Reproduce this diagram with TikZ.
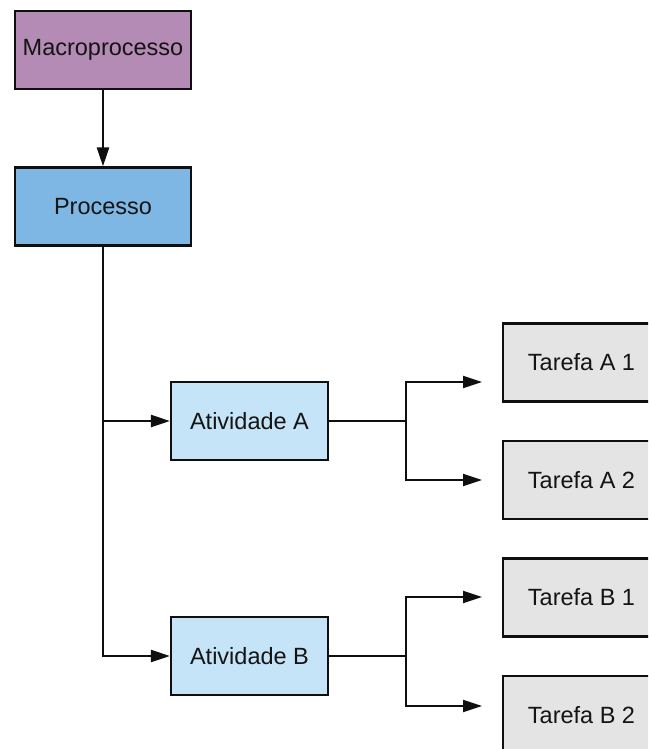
\documentclass[tikz,border=0pt]{standalone}
\usepackage{fontspec}
\setmainfont{Liberation Sans}
\usetikzlibrary{arrows.meta}
\definecolor{macrofill}{RGB}{180,139,180}
\definecolor{procfill}{RGB}{127,183,228}
\definecolor{ativfill}{RGB}{198,228,247}
\definecolor{tarefill}{RGB}{228,228,228}
\definecolor{inkline}{RGB}{15,15,15}
\begin{document}
\begin{tikzpicture}[x=1pt,y=-1pt,
  box/.style={draw=inkline, line width=2.2pt, rectangle, inner sep=0pt,
    font=\fontsize{23.5}{28}\selectfont, text=black!92},
  bigbox/.style={box, minimum width=176pt, minimum height=78pt},
  ativbox/.style={box, fill=ativfill, minimum width=157pt, minimum height=78pt},
  tarebox/.style={box, fill=tarefill, minimum width=157pt, minimum height=78pt},
  link/.style={draw=inkline, line width=2.2pt},
  arr/.style={link, -{Triangle[length=19pt,width=12pt]}}]
\useasboundingbox (0,0) rectangle (648,749);
\clip (0,0) rectangle (648,749);

% hierarchy boxes
\node[bigbox, fill=macrofill] (macro) at (103,50) {Macroprocesso};
\node[bigbox, fill=procfill] (proc) at (103,206.5) {Processo};
\node[ativbox] (ata) at (249.5,421) {Atividade A};
\node[ativbox] (atb) at (249.5,656) {Atividade B};
\node[tarebox] (ta1) at (581.5,362.5) {Tarefa A 1};
\node[tarebox] (ta2) at (581.5,480) {Tarefa A 2};
\node[tarebox] (tb1) at (581.5,597.5) {Tarefa B 1};
\node[tarebox] (tb2) at (581.5,715) {Tarefa B 2};

% junctions and arrow ends
\coordinate (ja) at (406,421);
\coordinate (jb) at (406,656);
\coordinate (ea1) at (482,382);
\coordinate (ea2) at (482,480);
\coordinate (eb1) at (482,597);
\coordinate (eb2) at (482,706);

% connectors
\draw[arr] (macro) -- (proc);
\draw[arr] (proc.south) |- (ata.west);
\draw[arr] (proc.south) |- (atb.west);
\draw[link] (ata.east) -- (ja);
\draw[arr] (ja) |- (ea1);
\draw[arr] (ja) |- (ea2);
\draw[link] (atb.east) -- (jb);
\draw[arr] (jb) |- (eb1);
\draw[arr] (jb) |- (eb2);
\end{tikzpicture}
\end{document}
